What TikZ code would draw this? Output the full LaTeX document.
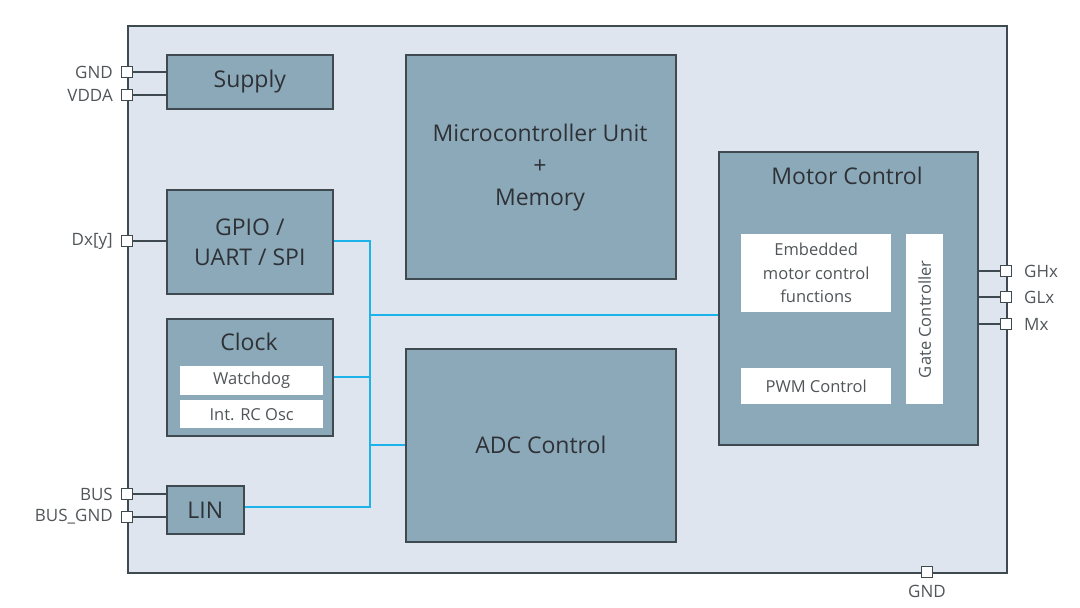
\documentclass[tikz,border=0pt]{standalone}
\usepackage{fontspec}
\setmainfont{Open Sans}
\definecolor{chipfill}{HTML}{DEE5EE}
\definecolor{blockfill}{HTML}{8CA9B9}
\definecolor{edge}{HTML}{3F4A50}
\definecolor{bus}{HTML}{1CB2EA}
\definecolor{txt}{HTML}{2E3236}
\definecolor{pintxt}{HTML}{505558}
\begin{document}
\begin{tikzpicture}[x=1pt,y=-1pt,
  block/.style={draw=edge,line width=1.6pt,fill=blockfill,inner sep=0pt,anchor=north west,text=txt,font=\fontsize{23}{28}\selectfont,align=center},
  ttl/.style={text=txt,font=\fontsize{23}{28}\selectfont,inner sep=0pt},
  sub/.style={fill=white,inner sep=0pt,anchor=north west,text=pintxt,font=\fontsize{16.5}{23.5}\selectfont,align=center},
  pin/.style={draw=edge,line width=1.5pt,fill=white,minimum size=11pt,inner sep=0pt},
  pinlbl/.style={text=pintxt,font=\fontsize{17}{20}\selectfont,inner sep=0pt},
  wire/.style={draw=edge,line width=1.5pt},
  buswire/.style={draw=bus,line width=2.6pt}]
\useasboundingbox (0,0) rectangle (1080,608);
\node[draw=edge,line width=1.7pt,fill=chipfill,anchor=north west,minimum width=879pt,minimum height=547pt,inner sep=0pt] (chip) at (127,25) {};
% blocks
\node[block,minimum width=166pt,minimum height=54pt] (supply) at (166,54) {Supply};
\node[block,minimum width=270pt,minimum height=224pt] (mcu) at (405,54) {};
\node[ttl] (mcul1) at (540,133) {Microcontroller Unit};
\node[ttl] (mcul2) at (540,167) {+};
\node[ttl] (mcul3) at (540,200) {Memory};
\node[block,minimum width=166pt,minimum height=104pt] (gpio) at (166,189) {GPIO /\\[2pt]UART / SPI};
\node[block,minimum width=166pt,minimum height=117pt] (clock) at (166,318) {};
\node[ttl] (clocklbl) at (249,342) {Clock};
\node[sub,minimum width=143pt,minimum height=29pt] (wdg) at (180,366) {Watchdog};
\node[sub,minimum width=143pt,minimum height=28pt] (osc) at (180,400) {Int. RC Osc};
\node[block,minimum width=77pt,minimum height=48pt] (lin) at (166,485) {LIN};
\node[block,minimum width=270pt,minimum height=193pt] (adc) at (405,348) {ADC Control};
\node[block,minimum width=259pt,minimum height=293pt] (motor) at (718,151) {};
\node[ttl] (motorlbl) at (847,176) {Motor Control};
\node[sub,minimum width=150pt,minimum height=78pt] (emb) at (741,234) {Embedded\\motor control\\functions};
\node[sub,minimum width=150pt,minimum height=36pt] (pwm) at (741,368) {PWM Control};
\node[sub,minimum width=37pt,minimum height=170pt] (gate) at (906,234) {};
\node[text=pintxt,font=\fontsize{16.5}{20}\selectfont,rotate=90,inner sep=0pt] (gatelbl) at (gate.center) {Gate Controller};
% pin wires (drawn first)
\coordinate (pgnd) at (127,72);
\coordinate (pvdda) at (127,95);
\coordinate (pdx) at (127,241);
\coordinate (pbus) at (127,494);
\coordinate (pbusgnd) at (127,517);
\coordinate (pghx) at (1006,271);
\coordinate (pglx) at (1006,297);
\coordinate (pmx) at (1006,324);
\coordinate (pgnd2) at (927,572);
\draw[wire] (pgnd) -- (pgnd -| supply.west);
\draw[wire] (pvdda) -- (pvdda -| supply.west);
\draw[wire] (pdx) -- (pdx -| gpio.west);
\draw[wire] (pbus) -- (pbus -| lin.west);
\draw[wire] (pbusgnd) -- (pbusgnd -| lin.west);
\draw[wire] (pghx -| motor.east) -- (pghx);
\draw[wire] (pglx -| motor.east) -- (pglx);
\draw[wire] (pmx -| motor.east) -- (pmx);
% pins
\node[pin] (ngnd) at (pgnd) {};
\node[pin] (nvdda) at (pvdda) {};
\node[pin] (ndx) at (pdx) {};
\node[pin] (nbus) at (pbus) {};
\node[pin] (nbusgnd) at (pbusgnd) {};
\node[pin] (nghx) at (pghx) {};
\node[pin] (nglx) at (pglx) {};
\node[pin] (nmx) at (pmx) {};
\node[pin] (ngnd2) at (pgnd2) {};
\node[pinlbl,anchor=east] (lgnd) at (113,72) {GND};
\node[pinlbl,anchor=east] (lvdda) at (113,95) {VDDA};
\node[pinlbl,anchor=east] (ldx) at (113,241) {Dx[y]};
\node[pinlbl,anchor=east] (lbus) at (113,494) {BUS};
\node[pinlbl,anchor=east] (lbusgnd) at (113,517) {BUS\_GND};
\node[pinlbl,anchor=west] (lghx) at (1024,271) {GHx};
\node[pinlbl,anchor=west] (lglx) at (1024,297) {GLx};
\node[pinlbl,anchor=west] (lmx) at (1024,324) {Mx};
\node[pinlbl] (lgnd2) at (927,591) {GND};
% internal bus
\coordinate (bt) at (370,241);
\coordinate (bb) at (370,507);
\draw[buswire] (gpio.east |- bt) -- (bt) -- (bb) -- (bb -| lin.east);
\draw[buswire] (370,377) -- (370,377 -| clock.east);
\draw[buswire] (370,315) -- (370,315 -| motor.west);
\draw[buswire] (370,445) -- (370,445 -| adc.west);
\end{tikzpicture}
\end{document}
